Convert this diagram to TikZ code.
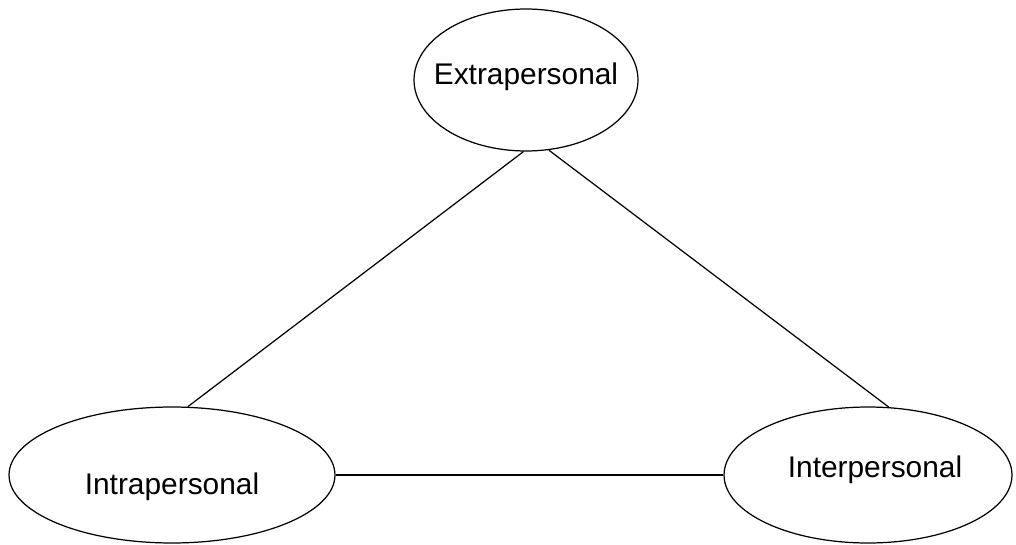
\documentclass[tikz,border=0pt]{standalone}
\usepackage{fontspec}
\setmainfont{Liberation Sans}
\usetikzlibrary{shapes.geometric}
\begin{document}
\begin{tikzpicture}[x=0.02cm,y=-0.02cm,line width=0.7pt]
%\draw[help lines] (0,0) grid (1016,544);
\tikzstyle{sphere}=[draw,shape=ellipse,inner sep=0pt]
\tikzstyle{word} = [font=\fontsize{17}{20}\selectfont];
\useasboundingbox (0,0) rectangle (1016,544);

\draw (526,80) node[sphere,minimum width=4.48cm,minimum height=2.84cm,
  label={[word,yshift=0.06cm]center:Extrapersonal}] (extra) {};
\draw (172,475) node[sphere,minimum width=6.52cm,minimum height=2.72cm,
  label={[word,yshift=-0.24cm]center:Intrapersonal}] (intra) {};
\draw (868,475) node[sphere,minimum width=5.76cm,minimum height=2.72cm,
  label={[word,xshift=0.14cm,yshift=0.1cm]center:Interpersonal}] (inter) {};

\draw (extra.-92.4) -- (intra.77.7);
\draw (extra.-72.8) -- (inter.73.6);
\draw (intra) -- (inter);
\end{tikzpicture}
\end{document}
